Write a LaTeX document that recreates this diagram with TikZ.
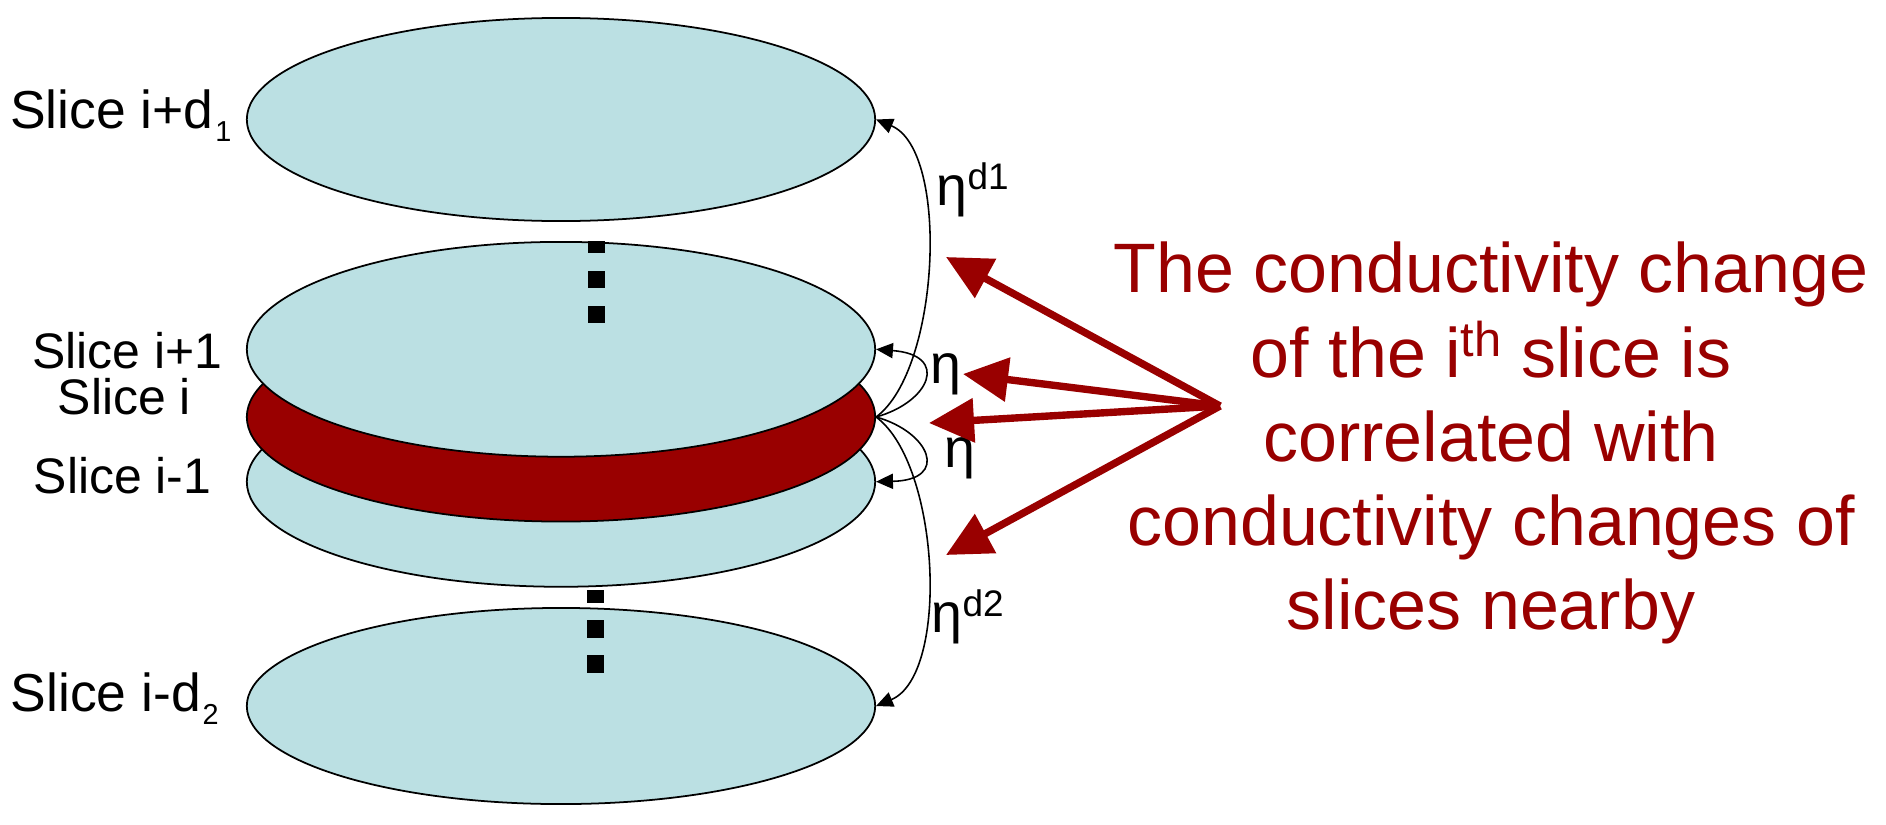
\documentclass[tikz,border=0pt]{standalone}
\usepackage{fontspec}
\setmainfont{Liberation Sans}
\usetikzlibrary{shapes.geometric,arrows.meta}
\definecolor{slicefill}{RGB}{187,224,227}
\definecolor{darkred}{RGB}{153,0,0}
\begin{document}
\begin{tikzpicture}[x=0.01cm,y=-0.01cm,
  slicebox/.style={ellipse,draw=black,line width=0.5pt,fill=slicefill,minimum width=6.28cm,inner sep=0pt},
  redslice/.style={slicebox,fill=darkred},
  lab/.style={anchor=base west,inner sep=0pt,font=\fontsize{14.2}{17}\selectfont},
  dlab/.style={anchor=base west,inner sep=0pt,font=\fontsize{15.2}{18}\selectfont},
  etalab/.style={anchor=base west,inner sep=0pt,font=\fontsize{15.8}{18}\selectfont},
  corr/.style={line width=0.45pt,-{Triangle[length=4.8pt,width=4.3pt]}},
  bigarrow/.style={draw=darkred,line width=2.1pt,-{Triangle[length=12.8pt,width=12.2pt]}},
  msg/.style={anchor=base,inner sep=0pt,text=darkred,font=\fontsize{19.9}{24}\selectfont}
]
\useasboundingbox (0,0) rectangle (1886,824);
% slices
\node[slicebox,minimum height=1.96cm] (e4) at (561,706) {};
\node[slicebox,minimum height=2.10cm] (e3) at (561,481.7) {};
\node[redslice,minimum height=2.09cm] (ei) at (561,417) {};
\node[slicebox,minimum height=2.147cm] (e2) at (561,349.3) {};
\node[slicebox,minimum height=2.03cm] (e1) at (561,119.5) {};
% dots
\fill (587.5,240.7) rectangle (605.3,253.3);
\fill (587.5,271) rectangle (605.3,288.3);
\fill (587.5,306) rectangle (605.3,323.3);
\fill (586.7,590) rectangle (604.3,602.7);
\fill (586.7,620) rectangle (604.3,637.7);
\fill (586.7,655) rectangle (604.3,673.3);
% correlation connectors
\draw[corr] (ei.east) .. controls (940,370) and (950,150) .. (e1.east);
\draw[corr] (ei.east) .. controls (930,402) and (950,355) .. (e2.east);
\draw[corr] (ei.east) .. controls (930,432) and (950,480) .. (e3.east);
\draw[corr] (ei.east) .. controls (940,464) and (950,675) .. (e4.east);
% slice labels
\node[dlab] (l1) at (9.5,128.3) {Slice i+d\kern0.5pt\raisebox{-3.8pt}{\fontsize{8.2}{9}\selectfont 1}};
\node[lab] (l2) at (31.5,368) {Slice i+1};
\node[lab] (l3) at (57,414) {Slice i};
\node[lab] (l4) at (33,493) {Slice i-1};
\node[dlab] (l5) at (10,711) {Slice i-d\kern0.5pt\raisebox{-3.8pt}{\fontsize{8.2}{9}\selectfont 2}};
% eta labels
\node[etalab] (eta1) at (930,383) {η};
\node[etalab] (eta2) at (944,467) {η};
\node[etalab] (etad1) at (936,205) {η\raisebox{4.3pt}{\fontsize{10.5}{11}\selectfont d1}};
\node[etalab] (etad2) at (931,632) {η\raisebox{4.3pt}{\fontsize{10.5}{11}\selectfont d2}};
% message
\node[msg] (m1) at (1491,292.7) {The conductivity change};
\node[msg] (m2) at (1491,377) {of the i\raisebox{5.7pt}{\fontsize{13.9}{14}\selectfont th} slice is};
\node[msg] (m3) at (1491,461) {correlated with};
\node[msg] (m4) at (1491,545) {conductivity changes of};
\node[msg] (m5) at (1491,629) {slices nearby};
% red arrows
\coordinate (hub) at (1220,406);
\coordinate (t1) at (946,257);
\coordinate (t2) at (963,374);
\coordinate (t3) at (929,423);
\coordinate (t4) at (946,555);
\draw[bigarrow] (hub) -- (t1);
\draw[bigarrow] (hub) -- (t2);
\draw[bigarrow] (hub) -- (t3);
\draw[bigarrow] (hub) -- (t4);
\end{tikzpicture}
\end{document}
